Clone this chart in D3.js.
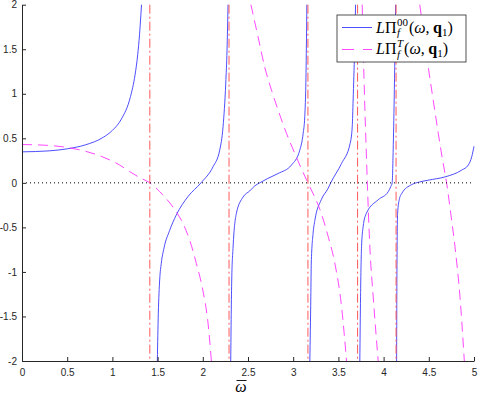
<!DOCTYPE html>
<html>
<head>
	<meta charset="utf-8">
	<script src="https://cdnjs.cloudflare.com/ajax/libs/d3/7.8.5/d3.min.js"></script>
	<style>
		body { margin: 0; background: #fff; }
	</style>
</head>
<body>
	<svg width="478" height="396"></svg>
	<script>
		// tick values
		let xTicks = [0, 0.5, 1, 1.5, 2, 2.5, 3, 3.5, 4, 4.5, 5];
		let yTicks = [-2, -1.5, -1, -0.5, 0, 0.5, 1, 1.5, 2];

		// dash-dot vertical lines
		let poleOmega = [1.414, 2.29, 3.163, 3.712, 4.138];

		// L Pi^00 (solid blue), one array per branch, [omega, value]
		let pi00Branch1 = [[0,0.348],[0.3,0.359],[0.5,0.382],[0.7,0.426],[0.9,0.512],[1.0,0.589],[1.1,0.717],[1.2,0.968],[1.25,1.209],[1.28,1.44],[1.3,1.662],[1.315,1.887],[1.322,2]];
		let pi00Branch2 = [[1.497,-2],[1.508,-1.464],[1.523,-1.09],[1.541,-0.902],[1.571,-0.73],[1.633,-0.535],[1.707,-0.36],[1.836,-0.154],[1.98,0],[2.113,0.18],[2.187,0.367],[2.224,0.63],[2.254,1.12],[2.268,1.49],[2.279,2]];
		let pi00Branch3 = [[2.309,-2],[2.32,-1.09],[2.335,-0.72],[2.372,-0.341],[2.445,-0.16],[2.52,-0.09],[2.575,-0.034],[2.63,0],[2.72,0.05],[2.833,0.105],[2.98,0.199],[3.073,0.367],[3.11,0.555],[3.128,0.745],[3.143,1.3],[3.151,2]];
		let pi00Branch4 = [[3.184,-2],[3.195,-1.28],[3.2,-0.9],[3.22,-0.566],[3.24,-0.42],[3.31,-0.19],[3.387,-0.06],[3.415,0],[3.535,0.218],[3.63,0.443],[3.653,0.63],[3.663,0.93],[3.679,1.49],[3.69,2]];
		let pi00Branch5 = [[3.737,-2],[3.745,-1.28],[3.756,-0.716],[3.774,-0.49],[3.81,-0.341],[3.94,-0.19],[4.051,-0.1],[4.08,-0.04],[4.095,0],[4.106,0.37],[4.117,0.93],[4.133,2]];
		let pi00Branch6 = [[4.144,-2],[4.147,-1.09],[4.155,-0.341],[4.173,-0.19],[4.2,-0.12],[4.31,-0.02],[4.4,0.01],[4.494,0.03],[4.68,0.067],[4.864,0.143],[4.937,0.2],[4.975,0.293],[5,0.41]];

		// L Pi^T (dashed magenta)
		let piTBranch1 = [[0,0.43],[0.3,0.42],[0.526,0.393],[0.7,0.355],[0.895,0.29],[1.08,0.2],[1.19,0.127],[1.3,0.06],[1.414,0],[1.56,-0.138],[1.707,-0.326],[1.781,-0.456],[1.855,-0.644],[1.929,-0.906],[2.0,-1.205],[2.058,-1.576],[2.095,-2]];
		let piTBranch2 = [[2.532,2],[2.611,1.64],[2.685,1.3],[2.76,1.04],[2.833,0.817],[2.926,0.555],[3.018,0.33],[3.09,0.16],[3.163,0],[3.31,-0.341],[3.387,-0.603],[3.46,-0.9],[3.535,-1.39],[3.59,-2]];
		let piTBranch3 = [[3.763,2],[3.776,1.45],[3.79,0.93],[3.805,0.45],[3.82,0],[3.848,-0.72],[3.885,-1.28],[3.94,-2]];
		let piTBranch4 = [[4.4,2],[4.45,1.63],[4.494,1.3],[4.55,0.92],[4.605,0.555],[4.65,0.27],[4.697,0],[4.745,-0.36],[4.79,-0.72],[4.845,-1.28],[4.893,-2]];

		let pi00 = [pi00Branch1, pi00Branch2, pi00Branch3, pi00Branch4, pi00Branch5, pi00Branch6];
		let piT = [piTBranch1, piTBranch2, piTBranch3, piTBranch4];

		let svg = d3.select("svg"),
			plotLeft = 22, plotRight = 474, plotTop = 4.7, plotBottom = 361;

		let x = d3.scaleLinear().domain([0, 5]).range([plotLeft, plotRight]),
			y = d3.scaleLinear().domain([-2, 2]).range([plotBottom, plotTop]);

		let sans = "'Liberation Sans', Arial, sans-serif",
			serif = "'Liberation Serif', 'DejaVu Serif', serif";

		let blue = "#3a3aff", magenta = "#ff33ff", red = "#ff5a5a";

		svg.append("defs").append("clipPath").attr("id", "plotClip")
			.append("rect")
			.attr("x", plotLeft).attr("y", plotTop - 1)
			.attr("width", plotRight - plotLeft + 2).attr("height", plotBottom - plotTop + 2);

		let plot = svg.append("g").attr("clip-path", "url(#plotClip)");

		let line = d3.line()
			.x(function(d) { return x(d[0]); })
			.y(function(d) { return y(d[1]); })
			.curve(d3.curveMonotoneX);

		//blue solid branches
		plot.selectAll(".pi00")
			.data(pi00)
			.enter().append("path")
			.attr("class", "pi00")
			.attr("d", line)
			.attr("fill", "none")
			.attr("stroke", blue)
			.attr("stroke-width", 0.9);

		//magenta dashed branches
		plot.selectAll(".piT")
			.data(piT)
			.enter().append("path")
			.attr("class", "piT")
			.attr("d", line)
			.attr("fill", "none")
			.attr("stroke", magenta)
			.attr("stroke-width", 0.9)
			.attr("stroke-dasharray", "10,6");

		//vertical dash-dot lines
		plot.selectAll(".pole")
			.data(poleOmega)
			.enter().append("line")
			.attr("class", "pole")
			.attr("x1", function(d) { return x(d); })
			.attr("x2", function(d) { return x(d); })
			.attr("y1", y(2))
			.attr("y2", y(-2))
			.attr("stroke", red)
			.attr("stroke-width", 1)
			.attr("stroke-dasharray", "9,3,2,3");

		//dotted zero line
		plot.append("line")
			.attr("x1", x(0)).attr("x2", x(5))
			.attr("y1", y(0)).attr("y2", y(0))
			.attr("stroke", "#000")
			.attr("stroke-width", 1)
			.attr("stroke-dasharray", "1,3");

		//axes, ticks pointing inward
		svg.append("g")
			.attr("transform", "translate(0," + plotBottom + ")")
			.call(d3.axisBottom(x).tickValues(xTicks).tickSizeInner(-4).tickSizeOuter(0).tickPadding(8)
				.tickFormat(function(d) { return d; }));

		svg.append("g")
			.attr("transform", "translate(" + plotLeft + ",0)")
			.call(d3.axisLeft(y).tickValues(yTicks).tickSizeInner(-4).tickSizeOuter(0).tickPadding(5)
				.tickFormat(function(d) { return d; }));

		svg.selectAll(".domain, .tick line").attr("stroke", "#262626");
		svg.selectAll(".tick text")
			.attr("fill", "#262626")
			.style("font-family", sans)
			.style("font-size", "10px");

		//x label: omega with a bar
		svg.append("text")
			.attr("x", 241)
			.attr("y", 392)
			.attr("text-anchor", "middle")
			.style("font-family", serif)
			.style("font-style", "italic")
			.style("font-size", "16px")
			.text("\u03C9");
		svg.append("line")
			.attr("x1", 236.5).attr("x2", 246.5)
			.attr("y1", 380.5).attr("y2", 380.5)
			.attr("stroke", "#000")
			.attr("stroke-width", 0.9);

		//legend
		let legend = svg.append("g");
		legend.append("rect")
			.attr("x", 337).attr("y", 15)
			.attr("width", 129).attr("height", 47)
			.attr("fill", "#fff")
			.attr("stroke", "#262626")
			.attr("stroke-width", 0.8);

		legend.append("line")
			.attr("x1", 342).attr("x2", 372)
			.attr("y1", 27.5).attr("y2", 27.5)
			.attr("stroke", blue)
			.attr("stroke-width", 0.9);
		legend.append("line")
			.attr("x1", 342).attr("x2", 372)
			.attr("y1", 49.5).attr("y2", 49.5)
			.attr("stroke", magenta)
			.attr("stroke-width", 0.9)
			.attr("stroke-dasharray", "12,9");

		function mathLabel(x0, yb, sup) {
			let cx = x0;
			function piece(str, size, style, weight, dy) {
				let t = legend.append("text")
					.attr("x", cx).attr("y", yb + dy)
					.style("font-family", serif)
					.style("font-size", size + "px")
					.style("font-style", style)
					.style("font-weight", weight)
					.attr("fill", "#000")
					.text(str);
				return t.node().getComputedTextLength();
			}
			cx += piece("L", 16, "italic", "normal", 0);
			cx += piece("\u03A0", 16, "normal", "normal", 0) + 0.5;
			let w1 = piece(sup, 11, sup == "T" ? "italic" : "normal", "normal", -7);
			let w2 = piece("f", 11, "italic", "normal", 3.5);
			cx += Math.max(w1, w2) + 1;
			cx += piece("(", 16, "normal", "normal", 0);
			cx += piece("\u03C9", 16, "italic", "normal", 0);
			cx += piece(",", 16, "normal", "normal", 0) + 3.5;
			cx += piece("q", 16, "normal", "bold", 0);
			cx += piece("1", 11, "normal", "normal", 3);
			piece(")", 16, "normal", "normal", 0);
		}
		mathLabel(376, 32.5, "00");
		mathLabel(376, 54, "T");
	</script>
</body>
</html>
